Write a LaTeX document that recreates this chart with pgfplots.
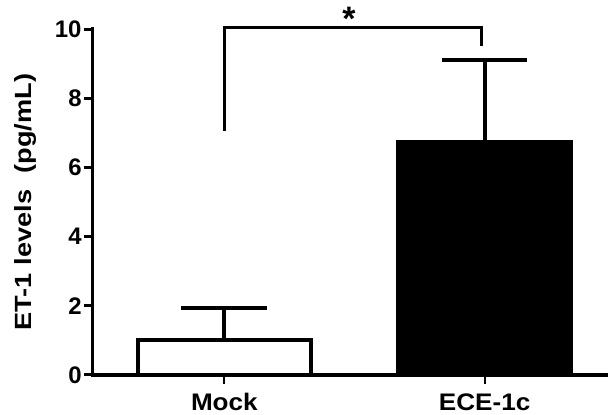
\documentclass[border=0pt]{standalone}
\usepackage{fontspec}
\setmainfont{Liberation Sans}
\usepackage{pgfplots}
\pgfplotsset{compat=1.18}

\begin{document}
\begin{tikzpicture}
\begin{axis}[
  scale only axis,
  width=515pt, height=346.7pt,
  xmin=-0.5057, xmax=1.4674,
  ymin=0, ymax=10,
  clip=false,
  axis x line=bottom, axis y line=left,
  axis line style={-, line width=3.5pt, line cap=rect},
  tick align=outside,
  major tick length=9pt,
  xtick={0,1},
  xticklabels={\scalebox{1.09}[1]{Mock}, \scalebox{1.09}[1]{ECE-1c}},
  ytick={0,2,4,6,8,10},
  x tick style={line width=2pt, black},
  y tick style={line width=3pt, black},
  /pgf/number format/assume math mode=true,
  tick label style={font=\fontsize{24}{24}\selectfont\bfseries},
  xticklabel style={anchor=base, inner sep=0pt, yshift=-27pt},
  yticklabel style={anchor=east, inner sep=0pt, xshift=-2pt},
  ylabel={\scalebox{1.16}[1]{ET-1 levels\hspace{0.6em}(pg/mL)}},
  ylabel style={at={(axis description cs:-0.1184,0.5)}, anchor=base,
                font=\fontsize{23.5}{24}\selectfont\bfseries},
]
% Mock: open bar with SEM
\addplot[ybar, bar width=0.665, bar shift=0pt, fill=white, draw=black,
  line width=4pt,
  error bars/.cd, y dir=plus, y explicit,
  error bar style={line width=4pt, black},
  error mark options={black, line width=4.5pt, mark size=43pt, rotate=90}]
  coordinates {(0,1.0) +- (0,0.94)};
% ECE-1c: filled bar with SEM
\addplot[ybar, bar width=0.665, bar shift=0pt, fill=black, draw=black,
  line width=4pt,
  error bars/.cd, y dir=plus, y explicit,
  error bar style={line width=4pt, black},
  error mark options={black, line width=4.5pt, mark size=43pt, rotate=90}]
  coordinates {(1,6.75) +- (0,2.36)};
% significance bracket
\addplot[black, line width=3pt, line join=miter, mark=none]
  coordinates {(0,7.06) (0,10.05) (0.987,10.05) (0.987,9.51)};
\node[anchor=base, inner sep=0pt, font=\fontsize{34}{34}\selectfont\bfseries]
  at (axis cs:0.479,9.95) {*};
\end{axis}
\path[use as bounding box] (-93pt,-40pt) rectangle (515pt,376pt);
\end{tikzpicture}
\end{document}
